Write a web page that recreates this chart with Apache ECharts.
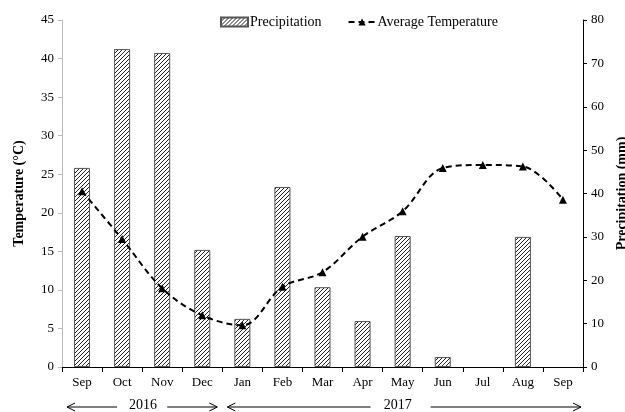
<!DOCTYPE html>
<html>
<head>
<meta charset="utf-8">
<script src="https://cdn.jsdelivr.net/npm/echarts@6/dist/echarts.min.js"></script>
<style>
html,body{margin:0;padding:0;background:#fff;}
#chart{width:625px;height:412px;}
</style>
</head>
<body>
<div id="chart"></div>
<script>
var months = ['Sep','Oct','Nov','Dec','Jan','Feb','Mar','Apr','May','Jun','Jul','Aug','Sep'];
var precipitation = [45.9, 73.3, 72.4, 27.0, 11.1, 41.5, 18.4, 10.6, 30.2, 2.3, 0, 30.0, 0];
var temperature = [22.8, 16.6, 10.2, 6.7, 5.4, 10.4, 12.3, 16.9, 20.2, 25.8, 26.2, 26.0, 21.7];
var tempTicks = {min: 0, max: 45, interval: 5};
var precTicks = {min: 0, max: 80, interval: 10};
var yearLabels = ['2016', '2017'];

function hatch() {
  var c = document.createElement('canvas');
  c.width = 4; c.height = 4;
  var g = c.getContext('2d');
  g.fillStyle = '#fff'; g.fillRect(0,0,4,4);
  g.strokeStyle = '#222'; g.lineWidth = 1;
  g.beginPath();
  g.moveTo(0,4); g.lineTo(4,0);
  g.moveTo(-1,1); g.lineTo(1,-1);
  g.moveTo(3,5); g.lineTo(5,3);
  g.stroke();
  return c;
}
var pattern = {image: hatch(), repeat: 'repeat'};
var font = '"Liberation Serif", "Times New Roman", serif';

var chart = echarts.init(document.getElementById('chart'));
var option = {
  animation: false,
  textStyle: {fontFamily: font},
  grid: {left: 62, right: 42, top: 20, bottom: 45, containLabel: false, outerBoundsMode: 'none'},
  legend: {
    left: 220, top: 15, padding: 0, itemGap: 26, itemWidth: 27, itemHeight: 9,
    textStyle: {fontFamily: font, fontSize: 14, color: '#000', padding: [0, 0, 0, -3]},
    data: [
      {name: 'Precipitation', icon: 'rect'},
      {name: 'Average Temperature'}
    ]
  },
  xAxis: {
    type: 'category', data: months, boundaryGap: true,
    axisLine: {lineStyle: {color: '#000', width: 1}},
    axisTick: {show: true, length: 5, lineStyle: {color: '#000'}},
    axisLabel: {fontFamily: font, fontSize: 13, color: '#000', margin: 9}
  },
  yAxis: [
    {
      type: 'value', min: tempTicks.min, max: tempTicks.max, interval: tempTicks.interval,
      name: 'Temperature (°C)', nameLocation: 'middle', nameGap: 36, nameRotate: 90,
      nameTextStyle: {fontFamily: font, fontSize: 14, fontWeight: 'bold', color: '#000'},
      axisLine: {show: true, lineStyle: {color: '#bbb'}},
      axisTick: {show: true, length: 4, lineStyle: {color: '#bbb'}},
      splitLine: {show: false},
      axisLabel: {fontFamily: font, fontSize: 13, color: '#000', margin: 8}
    },
    {
      type: 'value', min: precTicks.min, max: precTicks.max, interval: precTicks.interval,
      position: 'right',
      name: 'Precipitation (mm)', nameLocation: 'middle', nameGap: 17, nameRotate: 90,
      nameTextStyle: {fontFamily: font, fontSize: 14, fontWeight: 'bold', color: '#000'},
      axisLine: {show: true, lineStyle: {color: '#000'}},
      axisTick: {show: true, length: 4, lineStyle: {color: '#000'}},
      splitLine: {show: false},
      axisLabel: {fontFamily: font, fontSize: 13, color: '#000', margin: 8}
    }
  ],
  series: [
    {
      name: 'Precipitation', type: 'bar', yAxisIndex: 1,
      data: precipitation.map(function (v) {
        return v === 0 ? {value: v, itemStyle: {borderWidth: 0, opacity: 0}} : v;
      }),
      barWidth: '40%',
      itemStyle: {color: pattern, borderColor: '#555', borderWidth: 1}
    },
    {
      name: 'Average Temperature', type: 'line', yAxisIndex: 0, data: temperature,
      smooth: 0.35, symbol: 'triangle', symbolSize: 8, z: 5,
      lineStyle: {color: '#000', width: 2, type: [6, 4]},
      itemStyle: {color: '#000'}
    }
  ]
};
chart.setOption(option);

// Year annotations below the axis, positioned from category centres
function bx(i) { return chart.convertToPixel({xAxisIndex: 0}, i); }
var yY = 407;
function arrow(tail, head) {
  var dir = head > tail ? 1 : -1;
  return [
    {type: 'line', shape: {x1: tail, y1: yY, x2: head, y2: yY}, style: {stroke: '#000', lineWidth: 1}},
    {type: 'polyline', shape: {points: [[head - dir * 8, yY - 4], [head, yY], [head - dir * 8, yY + 4]]}, style: {stroke: '#000', lineWidth: 1, fill: null}}
  ];
}
var g = [];
g = g.concat(arrow(bx(1) - 5, bx(0) - 15));
g = g.concat(arrow(bx(2) + 5, bx(3) + 15));
g = g.concat(arrow(bx(7) + 8, bx(4) - 15));
g = g.concat(arrow(bx(8) + 28, bx(12) + 18));
g.push({type: 'text', x: bx(1) + 21, y: yY - 9, style: {text: yearLabels[0], font: '14px ' + font, fill: '#000', align: 'center'}});
g.push({type: 'text', x: bx(8) - 5, y: yY - 9, style: {text: yearLabels[1], font: '14px ' + font, fill: '#000', align: 'center'}});
chart.setOption({graphic: g});
</script>
</body>
</html>
